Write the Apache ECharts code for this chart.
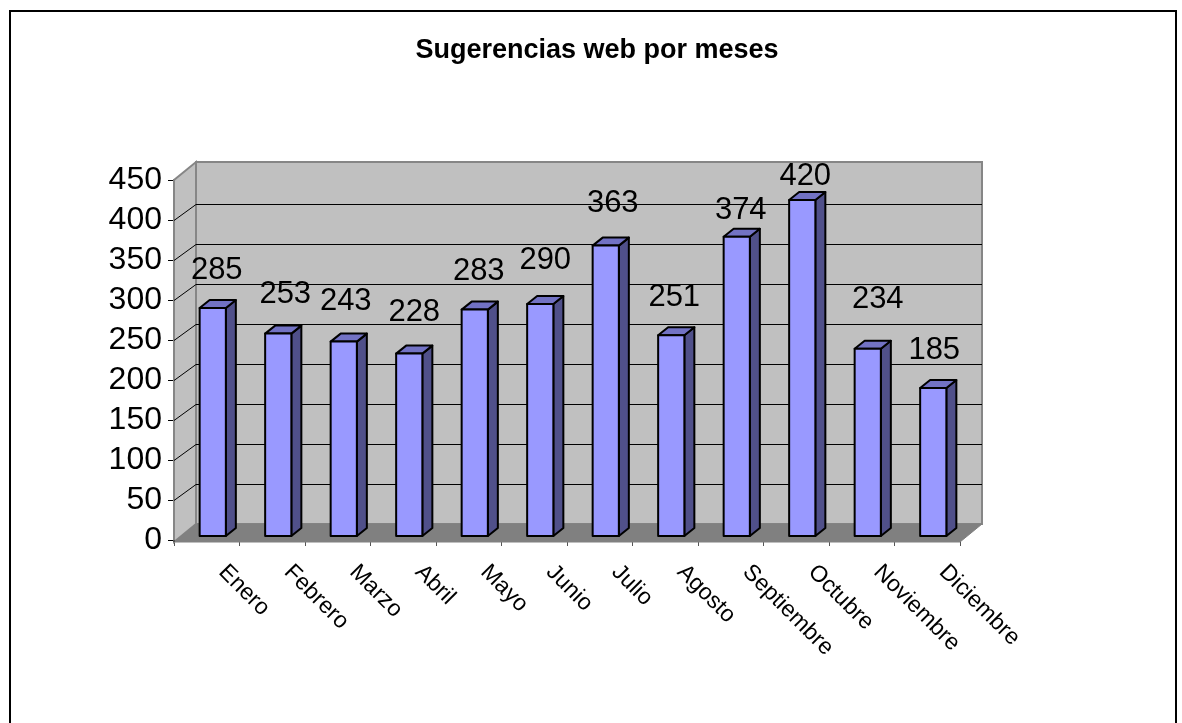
<!DOCTYPE html>
<html>
<head>
<meta charset="utf-8">
<style>html,body{margin:0;padding:0;background:#fff}#main{width:1182px;height:723px}</style>
<script src="https://cdn.jsdelivr.net/npm/echarts@6/dist/echarts.min.js"></script>
</head>
<body>
<div id="main"></div>
<script>
var meses = ['Enero','Febrero','Marzo','Abril','Mayo','Junio','Julio','Agosto','Septiembre','Octubre','Noviembre','Diciembre'];
var sugerencias = [285,253,243,228,283,290,363,251,374,420,234,185];
var yTicks = [0,50,100,150,200,250,300,350,400,450];
// nudge of each value label from its default spot, the original has them scattered
var labelDx = [0,3,-2,1,0,1,3,-1,0,-1,6,-3];
var labelDy = [0,-1,-2,-3,0,-6,-4,0,12,14,-11,0];

// depth of the fake 3d box
var wallDx = 22, wallDy = -16, barDx = 10, barDy = -8, barShiftX = 6, barShiftY = -4;

function renderWalls(params, api) {
  var cs = params.coordSys;
  var x0 = cs.x, x1 = cs.x + cs.width, y0 = cs.y + cs.height, y1 = cs.y;
  var backTop = y1 + wallDy - 2, backBottom = y0 + wallDy, front = y0 + 2;
  return {
    type: 'group',
    children: [
      {type: 'polygon', shape: {points: [[x0 + wallDx, backTop], [x1 + wallDx, backTop], [x1 + wallDx, backBottom], [x0 + wallDx, backBottom]]},
        style: {fill: '#c0c0c0', stroke: '#868686', lineWidth: 2}},
      {type: 'polygon', shape: {points: [[x0, y1], [x0 + wallDx, backTop], [x0 + wallDx, backBottom], [x0, front]]},
        style: {fill: '#c0c0c0', stroke: '#868686', lineWidth: 2}},
      {type: 'polygon', shape: {points: [[x0, front], [x0 + wallDx, backBottom], [x1 + wallDx, backBottom], [x1, front]]},
        style: {fill: '#808080', stroke: '#808080', lineWidth: 1}},
      {type: 'line', shape: {x1: x0, y1: y0, x2: x0, y2: front}, style: {stroke: '#555', lineWidth: 2}}
    ]
  };
}

function renderGrid(params, api) {
  var cs = params.coordSys;
  var y = api.coord([0, api.value(0)])[1] + 0.5;
  var x0 = cs.x, x1 = cs.x + cs.width;
  return {
    type: 'polyline',
    shape: {points: [[x0, y], [x0 + wallDx, y + wallDy], [x1 + wallDx, y + wallDy]]},
    style: {fill: 'none', stroke: '#000', lineWidth: 1}
  };
}

function renderBar(params, api) {
  var top = api.coord([api.value(0), api.value(1)]);
  var bottom = api.coord([api.value(0), 0]);
  var w = api.size([1, 0])[0] * 0.4;
  var l = top[0] - w / 2 + barShiftX, r = l + w;
  var t = top[1] + barShiftY, b = bottom[1] + barShiftY;
  var line = {stroke: '#000', lineWidth: 2, lineJoin: 'round'};
  return {
    type: 'group',
    children: [
      {type: 'polygon', shape: {points: [[r, t], [r + barDx, t + barDy], [r + barDx, b + barDy], [r, b]]},
        style: Object.assign({fill: '#50508a'}, line)},
      {type: 'polygon', shape: {points: [[l, t], [l + barDx, t + barDy], [r + barDx, t + barDy], [r, t]]},
        style: Object.assign({fill: '#7272c4'}, line)},
      {type: 'rect', shape: {x: l, y: t, width: w, height: b - t},
        style: Object.assign({fill: '#9999ff'}, line)}
    ]
  };
}

function renderValue(params, api) {
  var i = api.value(0);
  var top = api.coord([i, api.value(1)]);
  return {
    type: 'text',
    style: {
      x: top[0] + 10 + labelDx[i], y: top[1] - 42 + labelDy[i],
      text: String(api.value(1)),
      font: '31px "Liberation Sans", Arial, sans-serif',
      fill: '#000', align: 'center', verticalAlign: 'middle'
    }
  };
}

var barData = meses.map(function (m, i) { return [i, sugerencias[i]]; });

var option = {
  animation: false,
  backgroundColor: '#fff',
  title: {
    text: 'Sugerencias web por meses',
    left: 592, top: 32, textAlign: 'center',
    textStyle: {fontFamily: '"Liberation Sans", Arial, sans-serif', fontSize: 27, fontWeight: 'bold', color: '#000'}
  },
  graphic: [{
    type: 'rect', silent: true, z: -1,
    shape: {x: 10, y: 11, width: 1166, height: 740},
    style: {fill: 'none', stroke: '#000', lineWidth: 2}
  }],
  grid: {left: 174, top: 180, width: 786, height: 360},
  xAxis: {
    type: 'category',
    data: meses,
    offset: 2,
    axisLine: {show: true, lineStyle: {color: '#555', width: 1}},
    axisTick: {show: true, alignWithLabel: false, length: 6, lineStyle: {color: '#555'}},
    axisLabel: {
      interval: 0, rotate: -45, margin: 11,
      padding: [0, 0, 0, 22],
      fontFamily: '"Liberation Sans", Arial, sans-serif', fontSize: 23, color: '#000'
    }
  },
  yAxis: {
    type: 'value', min: 0, max: 450, interval: 50,
    axisLine: {show: true, lineStyle: {color: '#555', width: 2}},
    axisTick: {show: true, length: 6, lineStyle: {color: '#000'}},
    splitLine: {show: false},
    axisLabel: {
      margin: 12, color: '#000', padding: [7, 0, 0, 0],
      fontFamily: '"Liberation Sans", Arial, sans-serif', fontSize: 32
    }
  },
  series: [
    {type: 'custom', renderItem: renderWalls, data: [[0]], z: 1, silent: true, clip: false},
    {type: 'custom', renderItem: renderGrid, data: yTicks.slice(1, -1).map(function (t) { return [t]; }), encode: {y: 0}, z: 2, silent: true, clip: false},
    {type: 'custom', renderItem: renderBar, data: barData, encode: {x: 0, y: 1}, z: 3, clip: false},
    {type: 'custom', renderItem: renderValue, data: barData, encode: {x: 0, y: 1}, z: 4, clip: false}
  ]
};

var myChart = echarts.init(document.getElementById('main'));
myChart.setOption(option);
</script>
</body>
</html>
